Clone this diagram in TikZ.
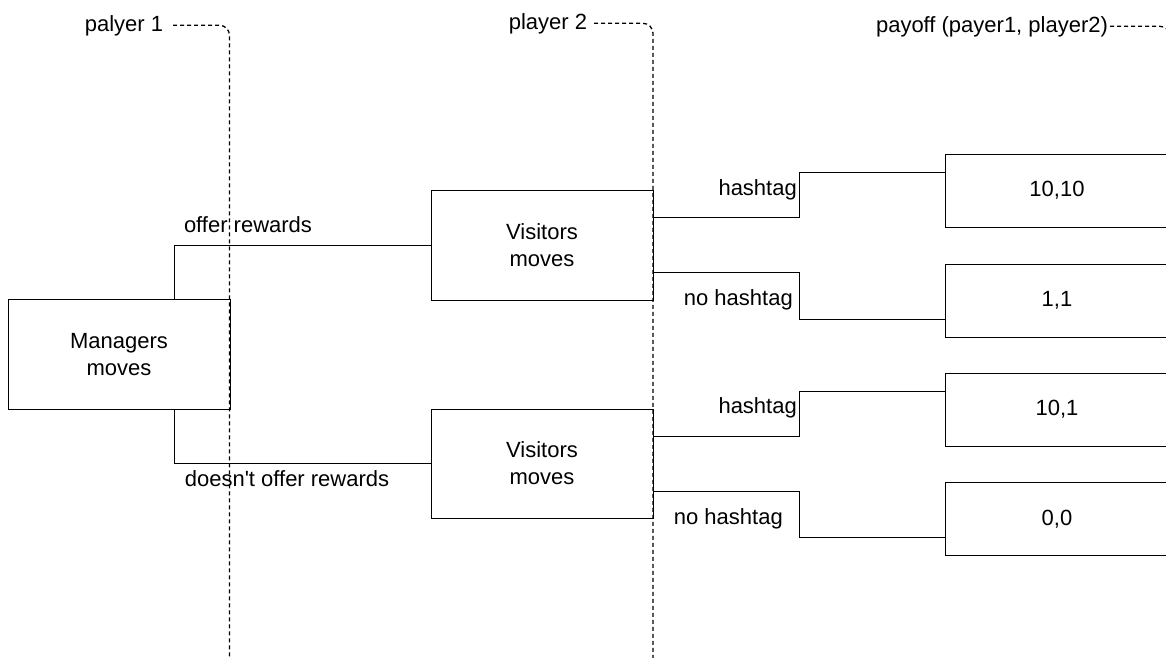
\documentclass[tikz,border=0pt]{standalone}
\usepackage{fontspec}
\newfontfamily\diagfont{Liberation Sans}
\usetikzlibrary{calc}

\begin{document}
\begin{tikzpicture}[x=1pt,y=-1pt,font=\diagfont\fontsize{22}{27}\selectfont, box/.style={draw,line width=1pt,fill=white,align=center,inner sep=0pt,minimum width=222pt,minimum height=110pt}, payoff/.style={box,minimum width=224pt,minimum height=73pt}, link/.style={line width=1pt}, lane/.style={line width=1.3pt,dash pattern=on 4pt off 3pt,rounded corners=10pt}, lanelbl/.style={inner sep=4pt,anchor=base}, tag/.style={inner sep=0pt,anchor=base}]
\useasboundingbox (0,0) rectangle (1166,657);
% players and their lanes
\node[lanelbl,outer sep=6pt] (p1lbl) at (124,31) {palyer 1};
\node[lanelbl,outer sep=3pt] (p2lbl) at (548,29) {player 2};
\node[lanelbl,inner sep=2pt] (paylbl) at (992,32) {payoff (payer1, player2)};
\coordinate (p1end) at (229.5,660);
\coordinate (p2end) at (653,660);
\coordinate (payend) at (1170,660);
% moves
\node[box] (mgr) at (119,354.5) {Managers\\moves};
\node[box] (vis1) at (542,245) {Visitors\\moves};
\node[box,minimum height=109pt] (vis2) at (542,463.5) {Visitors\\moves};
\node[payoff] (pay1) at (1057,190.5) {10,10};
\node[payoff] (pay2) at (1057,300.5) {1,1};
\node[payoff] (pay3) at (1057,409.5) {10,1};
\node[payoff] (pay4) at (1057,519) {0,0};
\draw[link] ($(mgr.north west)!.75!(mgr.north east)$) |- (vis1.west);
\draw[link] ($(mgr.south west)!.75!(mgr.south east)$) |- (vis2.west);
\foreach \v/\p/\f in {vis1/pay1/.25, vis1/pay2/.75, vis2/pay3/.25, vis2/pay4/.75}
  \draw[link] ($(\v.north east)!\f!(\v.south east)$) -- ++(146,0) |- ($(\p.north west)!\f!(\p.south west)$);
\node[tag] (offer) at (248,232) {offer rewards};
\node[tag] (nooffer) at (287,486) {doesn't offer rewards};
\node[tag,anchor=base east] (h1) at (797,195) {hashtag};
\node[tag,anchor=base east] (nh1) at (793,305) {no hashtag};
\node[tag,anchor=base east] (h2) at (797,413) {hashtag};
\node[tag,anchor=base east] (nh2) at (783,524) {no hashtag};
\draw[lane] (p1lbl.east) -| (p1end);
\draw[lane] (p2lbl.east) -| (p2end);
\draw[lane] (paylbl.east) -| (payend);
\end{tikzpicture}
\end{document}
